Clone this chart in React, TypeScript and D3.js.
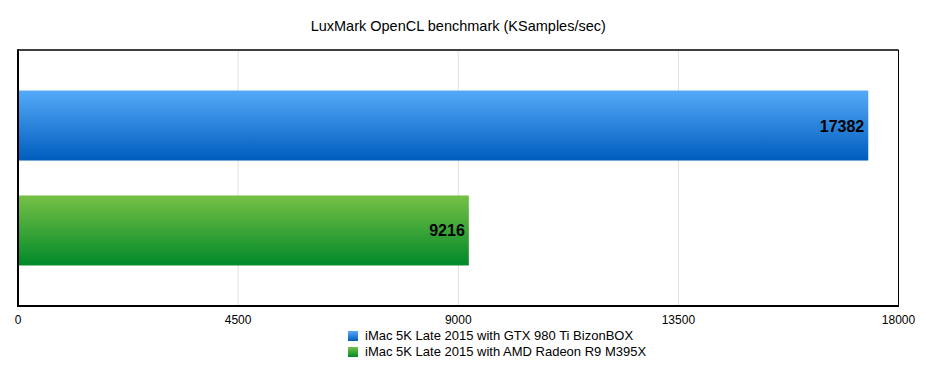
import React from "react";
import * as d3 from "d3";

const categories = [
  "iMac 5K Late 2015 with GTX 980 Ti BizonBOX",
  "iMac 5K Late 2015 with AMD Radeon R9 M395X",
];
const values = [17382, 9216];
const tickValues = [0, 4500, 9000, 13500, 18000];
const title = "LuxMark OpenCL benchmark (KSamples/sec)";
const gradients = [
  ["#55aaf9", "#005dbd"],
  ["#76c145", "#00892a"],
];

export default function App() {
  const W = 926, H = 378;
  const left = 18, right = 898.5, top = 50, bottom = 306;
  const x = d3.scaleLinear().domain([0, 18000]).range([left, right]);
  const y = d3.scaleBand<string>().domain(categories).range([top, bottom]).paddingInner(0.333).paddingOuter(0.386);
  const font = "'Liberation Sans', Arial, Helvetica, sans-serif";
  return (
    <svg width={W} height={H} style={{ position: "absolute", left: 0, top: 0 }} fontFamily={font}>
      <defs>
        {gradients.map((g, i) => (
          <linearGradient key={i} id={`g${i}`} x1="0" y1="0" x2="0" y2="1">
            <stop offset="0" stopColor={g[0]} />
            <stop offset="1" stopColor={g[1]} />
          </linearGradient>
        ))}
      </defs>
      <rect width={W} height={H} fill="#fff" />
      <text x={(left + right) / 2} y={31} textAnchor="middle" fontSize={14.5} fill="#000">{title}</text>
      {tickValues.slice(1, -1).map((t) => (
        <line key={t} x1={x(t)} x2={x(t)} y1={top} y2={bottom} stroke="#e0e0e0" strokeWidth={1} />
      ))}
      {categories.map((c, i) => (
        <g key={c}>
          <rect x={x(0)} y={y(c)!} width={x(values[i]) - x(0)} height={y.bandwidth()} fill={`url(#g${i})`} />
          <text x={x(values[i]) - 4} y={y(c)! + y.bandwidth() / 2 + 6} textAnchor="end" fontSize={16} fontWeight="bold" fill="#000">{values[i]}</text>
        </g>
      ))}
      <line x1={left} x2={right} y1={top} y2={top} stroke="#000" strokeWidth={1.5} />
      <line x1={right} x2={right} y1={top} y2={bottom} stroke="#000" strokeWidth={1} />
      <line x1={left} x2={left} y1={top - 0.75} y2={bottom + 1} stroke="#000" strokeWidth={2} />
      <line x1={left - 1} x2={right + 0.5} y1={bottom} y2={bottom} stroke="#000" strokeWidth={2} />
      {tickValues.map((t) => (
        <text key={t} x={x(t)} y={324} textAnchor="middle" fontSize={12} fill="#000">{t}</text>
      ))}
      {categories.map((c, i) => (
        <g key={c}>
          <rect x={348} y={331 + i * 16} width={10} height={10} fill={`url(#g${i})`} />
          <text x={365} y={340 + i * 16} fontSize={13} fill="#000">{c}</text>
        </g>
      ))}
    </svg>
  );
}
